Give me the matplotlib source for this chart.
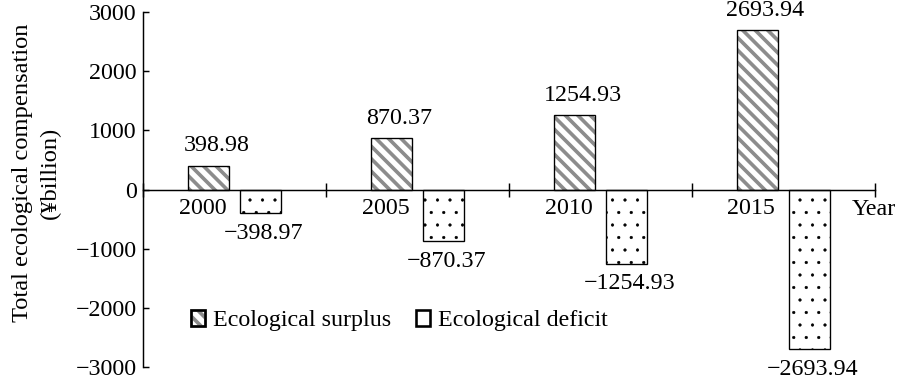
import numpy as np
import matplotlib.pyplot as plt
from matplotlib.patches import Patch
from matplotlib.legend_handler import HandlerTuple
import matplotlib.transforms as mtransforms

plt.rcParams['font.family'] = ['Liberation Serif', 'DejaVu Serif']
plt.rcParams['font.size'] = 23
plt.rcParams['hatch.linewidth'] = 3.5

# Data
years = ['2000', '2005', '2010', '2015']
surplus = [398.98, 870.37, 1254.93, 2693.94]
deficit = [-398.97, -870.37, -1254.93, -2693.94]

x = np.arange(len(years))
w = 0.224
off = 0.142
stripe = '#8c8c8c'

fig = plt.figure(figsize=(12, 5), dpi=75)
ax = fig.add_axes([0.159, 0.021, 0.813, 0.947])

# surplus: gray stripes, black outline
ax.bar(x - off, surplus, w, color='white', edgecolor=stripe, hatch='\\\\', linewidth=0)
ax.bar(x - off, surplus, w, fill=False, edgecolor='black', linewidth=1.3)

# deficit: black dots
dbars = ax.bar(x + off, deficit, w, color='white', edgecolor='black', hatch='.', linewidth=1.3)
for b in dbars:
    if hasattr(b, 'set_hatch_linewidth'):
        b.set_hatch_linewidth(0.6)

# value labels
for xi, v in zip(x, surplus):
    ax.annotate(f'{v:.2f}', (xi - off, v), xytext=(8, 20), textcoords='offset pixels',
                ha='center', va='center')
for xi, v in zip(x, deficit):
    ax.annotate(f'\u2212{abs(v):.2f}', (xi + off, v), xytext=(3, -20), textcoords='offset pixels',
                ha='center', va='center')

# category labels under the surplus bars
for xi, yr in zip(x, years):
    ax.annotate(yr, (xi - off, 0), xytext=(-6, -19), textcoords='offset pixels',
                ha='center', va='center')

ax.set_xlim(-0.5, 3.5)
ax.set_ylim(-3000, 3000)
ax.set_yticks(np.arange(-3000, 3001, 1000))
ax.set_xticks(np.arange(-0.5, 3.6, 1.0))
ax.set_xticklabels([])
ax.tick_params(axis='x', direction='inout', length=14, width=1.4)
ax.tick_params(axis='y', direction='in', length=6, width=1.4, pad=6)

for s in ['top', 'right']:
    ax.spines[s].set_visible(False)
ax.spines['bottom'].set_position(('data', 0))
ax.spines['bottom'].set_linewidth(1.4)
ax.spines['left'].set_linewidth(1.4)

trans = mtransforms.blended_transform_factory(ax.transAxes, ax.transData)
ax.annotate('Year', (0.969, 0), xycoords=trans, xytext=(0, -20), textcoords='offset pixels',
            ha='left', va='center')

ax.set_ylabel('Total ecological compensation\n(\u00a5billion)', fontsize=23.5, linespacing=1.4)
ax.yaxis.set_label_coords(-0.113, 0.546)

h1 = (Patch(facecolor='white', edgecolor=stripe, hatch='\\\\', linewidth=2.5),
      Patch(fill=False, edgecolor='black', linewidth=2.5))
h2 = Patch(facecolor='white', edgecolor='black', linewidth=2.5)
ax.legend([h1, h2], ['Ecological surplus', 'Ecological deficit'],
          handler_map={tuple: HandlerTuple(ndivide=1, pad=0)},
          loc='center left', bbox_to_anchor=(0.052, 0.13), ncol=2, frameon=False,
          handlelength=0.6, handleheight=0.6, handletextpad=0.35, columnspacing=1.0,
          borderaxespad=0)

fig.savefig('out.png', dpi=75)
